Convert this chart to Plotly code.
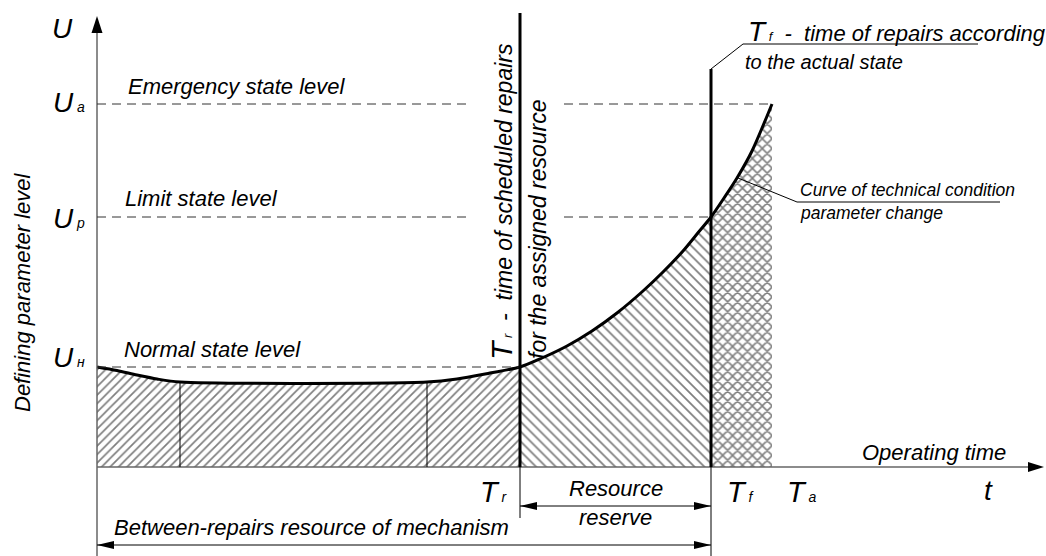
import plotly.graph_objects as go

# ---------------- data (schematic units: t to the right of origin, U above it) ----------------
curve_t = [0, 20, 40, 60, 83, 330, 360, 393, 423, 445, 470, 495, 520, 546, 566, 586, 600, 614, 627, 640, 655, 675]
curve_U = [100, 96.5, 92, 88, 85, 85, 88, 94, 100, 109, 121, 136, 154, 176, 195, 216, 233, 250, 269, 289, 316, 363]

level_names = ["н", "p", "a"]          # subscripts of U
level_values = [100, 250, 363]         # U_н, U_p, U_a

T_r = 423   # scheduled repairs
T_f = 614   # repairs by actual state
T_a = 675   # emergency state reached
stage_breaks = [83, 330]

t_labels = [("r", T_r), ("f", T_f), ("a", T_a)]

# ---------------- figure ----------------
FONT = "Liberation Sans, Arial, sans-serif"
BLACK = "black"
AXIS = "#666666"

fig = go.Figure()


def segment(t0, t1, shape, size, solidity):
    xs = [t for t in curve_t if t0 <= t <= t1]
    ys = [u for t, u in zip(curve_t, curve_U) if t0 <= t <= t1]
    fig.add_trace(go.Scatter(x=[t0, t1], y=[0, 0], mode="lines", line=dict(width=0),
                             hoverinfo="skip", showlegend=False))
    fig.add_trace(go.Scatter(x=xs, y=ys, mode="lines",
                             line=dict(color=BLACK, width=0, shape="spline", smoothing=0.8),
                             fill="tonexty", fillcolor="white",
                             fillpattern=dict(shape=shape, size=size, solidity=solidity,
                                              fgcolor=BLACK, bgcolor="white"),
                             hoverinfo="skip", showlegend=False))


segment(0, T_r, "/", 6, 0.28)
segment(T_r, T_f, "\\", 7, 0.25)
segment(T_f, T_a, "x", 7, 0.4)

# full curve line on top of fills
fig.add_trace(go.Scatter(x=curve_t, y=curve_U, mode="lines",
                         line=dict(color=BLACK, width=3, shape="spline", smoothing=0.8),
                         hoverinfo="skip", showlegend=False))

shapes = []


def line(x0, y0, x1, y1, color=BLACK, width=1, dash=None):
    d = dict(type="line", x0=x0, y0=y0, x1=x1, y1=y1, xref="x", yref="y",
             line=dict(color=color, width=width))
    if dash:
        d["line"]["dash"] = dash
    shapes.append(d)


def head(x, y, dx, dy, length, half):
    bx, by = x - dx * length, y - dy * length
    nx, ny = -dy, dx
    shapes.append(dict(type="path", xref="x", yref="y",
                       path=f"M{x},{y} L{bx + nx * half},{by + ny * half} L{bx - nx * half},{by - ny * half} Z",
                       fillcolor=BLACK, line=dict(width=0)))


# axes
line(0, -89, 0, 440, AXIS, 1.5)
head(0, 451, 0, 1, 17, 5.5)
line(0, 0, 935, 0, AXIS, 1.5)
head(947, 0, 1, 0, 16, 5)

# stage division lines
y_at = dict(zip(curve_t, curve_U))
for b in stage_breaks:
    line(b, 0, b, y_at[b], BLACK, 1)

# dashed levels
DASH = "9px,6px"
DCOL = "#333"
line(0, level_values[0], T_r, level_values[0], DCOL, 1, DASH)
line(0, level_values[1], 370, level_values[1], DCOL, 1, DASH)
line(467, level_values[1], T_f, level_values[1], DCOL, 1, DASH)
line(0, level_values[2], 370, level_values[2], DCOL, 1, DASH)
line(467, level_values[2], T_a, level_values[2], DCOL, 1, DASH)

# T_r and T_f verticals
line(T_r, 0, T_r, 454, BLACK, 3)
line(T_r, 0, T_r, -51, BLACK, 1)
line(T_f, 0, T_f, 398, BLACK, 3)
line(T_f, 0, T_f, -89, BLACK, 1)
line(T_f, 398, T_f + 32, 423, BLACK, 1)
line(T_f + 32, 423, 881, 423, BLACK, 1)

# curve leader
line(641, 289, 700, 265, BLACK, 1)
line(700, 265, 903, 265, BLACK, 1)

# dimension arrows
line(T_r, -39, T_f, -39, BLACK, 1)
head(T_r, -39, -1, 0, 17, 4)
head(T_f, -39, 1, 0, 17, 4)
line(0, -78, T_f, -78, BLACK, 1)
head(0, -78, -1, 0, 17, 4)
head(T_f, -78, 1, 0, 17, 4)

ann = []


def text(x, y, s, size=22, xanchor="left", yanchor="middle", angle=0):
    ann.append(dict(x=x, y=y, xref="x", yref="y", text=s, showarrow=False,
                    xanchor=xanchor, yanchor=yanchor, textangle=angle,
                    font=dict(family=FONT, size=size, color=BLACK, style="italic")))


def sub(big, small, bs, ss):
    return f"<span style='font-size:{bs}px'>{big}</span><span style='font-size:{ss}px'> {small}</span>"


text(-35, 439, "U", 28, "center")
level_y = [110, 249, 365]
for name, yy in zip(level_names, level_y):
    text(-46, yy, sub("U", name, 28, 14))

text(29, 381, "Emergency state level")
text(26, 269, "Limit state level")
text(25, 118, "Normal state level")
text(-75, 175, "Defining parameter level", 22, "center", "middle", -90)

text(404, 265, sub("T", "r", 30, 13) + "&nbsp; - &nbsp;time of scheduled repairs", 23, "center", "middle", -90)
text(441, 238, "for the assigned resource", 23, "center", "middle", -90)

text(649, 436, sub("T", "f", 28, 13) + "&nbsp; - &nbsp;time of repairs according", 22)
text(646, 405, "to the actual state", 20)

text(701, 277, "Curve of technical condition", 17.5)
text(701, 254, "parameter change", 17.5)

text(763, 15, "Operating time", 22)
text(891, -23, "t", 28, "center")

for (s, tv), dx in zip(t_labels, [-42, 14, 13]):
    text(tv + dx, -25, sub("T", s, 29, 14))

text((T_r + T_f) / 2, -21, "Resource", 22, "center")
text((T_r + T_f) / 2, -50, "reserve", 22, "center")
text(15, -60, "Between-repairs resource of mechanism", 22)

fig.update_layout(
    width=1046, height=556,
    margin=dict(l=0, r=0, t=0, b=0),
    paper_bgcolor="white", plot_bgcolor="white",
    xaxis=dict(visible=False, range=[-97, 949], fixedrange=True),
    yaxis=dict(visible=False, range=[-89, 467], fixedrange=True),
    shapes=shapes, annotations=ann, showlegend=False,
)

fig.write_html("out.html", config={"displayModeBar": False},
               post_script="document.body.style.margin='0';")
